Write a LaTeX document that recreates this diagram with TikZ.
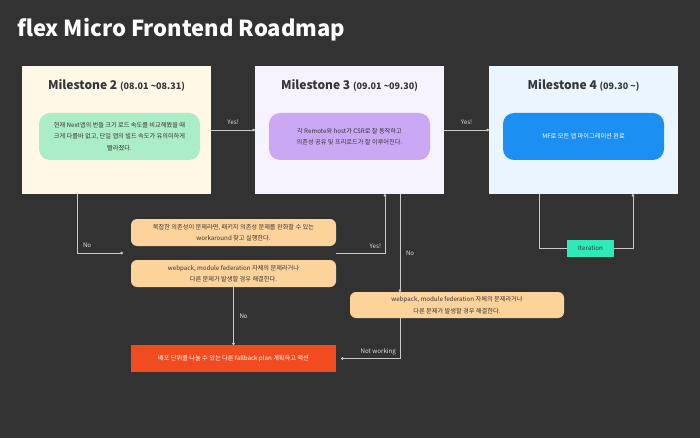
\documentclass[tikz,border=0pt]{standalone}
\usepackage{fontspec}
\setmainfont{Noto Sans CJK KR}
\usetikzlibrary{arrows.meta,positioning,fit}

\definecolor{bgdark}{HTML}{323232}
\definecolor{inkdark}{HTML}{363636}
\definecolor{wire}{HTML}{C9C9C9}
\definecolor{msTwo}{HTML}{FFF8E6}
\definecolor{msThree}{HTML}{F7F2FF}
\definecolor{msFour}{HTML}{EAF5FF}
\definecolor{mint}{HTML}{AAEDC7}
\definecolor{lilac}{HTML}{CAA8F4}
\definecolor{skyblue}{HTML}{1C8FF2}
\definecolor{peach}{HTML}{FDD39C}
\definecolor{flame}{HTML}{F24B1F}
\definecolor{teal}{HTML}{2EEAB6}

\begin{document}
\begin{tikzpicture}[x=1pt, y=-1pt,
  every node/.style={font=\fontsize{6.2}{11.5}\selectfont, inner sep=0pt, outer sep=0pt},
  stage/.style={fill=#1, minimum width=189pt, minimum height=128pt},
  goal/.style={fill=#1, rounded corners=11pt, minimum width=161pt, minimum height=47pt, align=center, text=inkdark},
  plan/.style={fill=peach, rounded corners=6pt, minimum height=27pt, align=center, text=inkdark},
  lbl/.style={text=white!88!black},
  conn/.style={draw=wire, line width=0.9pt, -{Circle[length=2.6pt]}},
  link/.style={draw=wire, line width=0.9pt}]

\fill[bgdark] (0,0) rectangle (700,438);
\useasboundingbox (0,0) rectangle (700,438);

\node[anchor=west, text=white, font=\bfseries\fontsize{22}{26}\selectfont] (title) at (17,30) {flex Micro Frontend Roadmap};

% milestones
\node[stage=msTwo] (ms2) at (116.5,130) {};
\node[stage=msThree, right=44pt of ms2] (ms3) {};
\node[stage=msFour, right=45pt of ms3] (ms4) {};

\node[text=inkdark, font=\bfseries] (ms2t) at ([yshift=45pt]ms2.center) {\fontsize{12}{14}\selectfont Milestone 2 \fontsize{9}{10}\selectfont(08.01 \textasciitilde08.31)};
\node[text=inkdark, font=\bfseries] (ms3t) at ([yshift=45pt]ms3.center) {\fontsize{12}{14}\selectfont Milestone 3 \fontsize{9}{10}\selectfont(09.01 \textasciitilde09.30)};
\node[text=inkdark, font=\bfseries] (ms4t) at ([yshift=45pt]ms4.center) {\fontsize{12}{14}\selectfont Milestone 4 \fontsize{9}{10}\selectfont(09.30 \textasciitilde)};

\node[goal=mint] (g2) at ([xshift=3pt, yshift=-6.5pt]ms2.center) {현재 Next앱의 번들 크기 로드 속도를 비교해봤을 때\\크게 다를바 없고, 단일 앱의 빌드 속도가 유의미하게\\빨라졌다.};
\node[goal=lilac] (g3) at ([yshift=-6.5pt]ms3.center) {각 Remote와 host가 CSR로 잘 동작하고\\의존성 공유 및 프리로드가 잘 이루어진다.};
\node[goal=skyblue, text=white] (g4) at ([yshift=-6.5pt]ms4.center) {MF로 모든 앱 마이그레이션 완료};

% fallbacks
\node[plan, minimum width=205pt] (o1) at (233.5,232.5) {복잡한 의존성이 문제라면, 패키지 의존성 문제를 완화할 수 있는\\workaround 찾고 실행한다.};
\node[plan, minimum width=205pt] (o2) at (233.5,273.5) {webpack, module federation 자체의 문제라거나\\다른 문제가 발생할 경우 해결한다.};
\node[fit=(o1)(o2)] (grp) {};
\node[plan, minimum width=214pt, minimum height=26pt] (o3) at (457,305) {webpack, module federation 자체의 문제라거나\\다른 문제가 발생할 경우 해결한다.};
\node[fill=flame, text=white, minimum width=205pt, minimum height=27pt] (fb) at (233.5,358.5) {배포 단위를 나눌 수 있는 다른 fallback plan 계획하고 액션};
\node[fill=teal, text=inkdark, minimum width=47pt, minimum height=17pt] (it) at (590.5,248.5) {Iteration};

\draw[conn] (ms2) -- node[lbl, above=5pt] {Yes!} (ms3);
\draw[conn] (ms3) -- node[lbl, above=5pt] {Yes!} (ms4);
\draw[conn] ([xshift=55pt]ms2.south west) |- node[lbl, pos=0.5, anchor=south west, xshift=6pt, yshift=5pt] {No} ([xshift=-8pt]grp.west);
\draw[conn] (grp.east) -| node[lbl, pos=0.5, anchor=south east, xshift=-4pt, yshift=4pt] {Yes!} ([xshift=130pt]ms3.south west);
\draw[conn] ([xshift=145pt]ms3.south west) -- node[lbl, pos=0.6, right=6pt] {No} ([xshift=145pt]ms3.south west |- o3.north);
\draw[conn] (o2) -- node[lbl, right=6pt] {No} (fb);
\draw[conn, shorten >=5pt] ([xshift=-57pt]o3.south) |- node[lbl, pos=0.67, above=3pt] {Not working} (fb.east);
\draw[link] ([xshift=50pt]ms4.south west) |- (it.west);
\draw[conn] (it.east) -| ([xshift=144pt]ms4.south west);
\end{tikzpicture}
\end{document}
